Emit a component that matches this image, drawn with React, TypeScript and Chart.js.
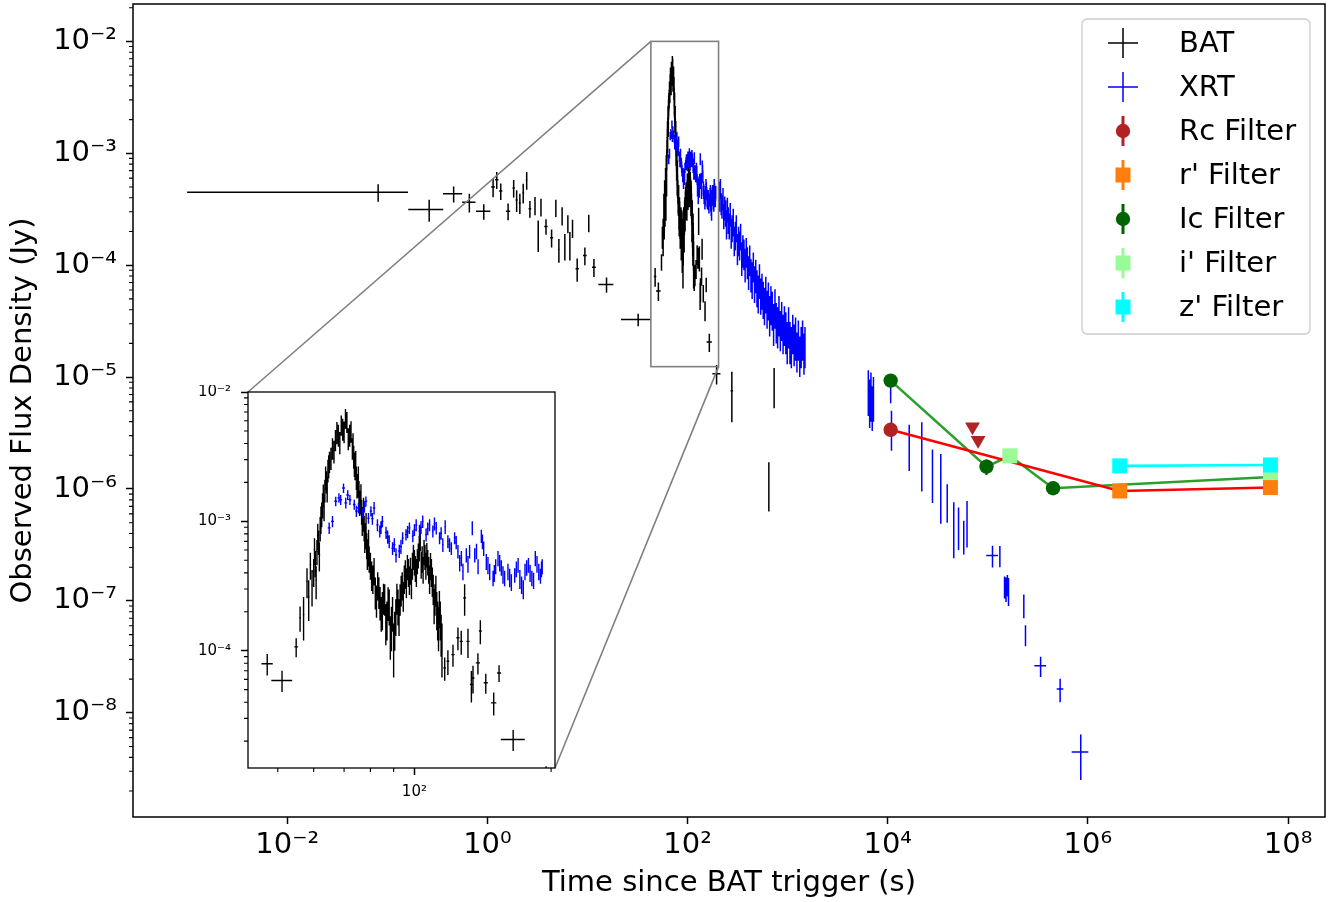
import React, { useEffect, useRef } from 'react';
import { Chart, registerables } from 'chart.js';

Chart.register(...registerables);

const FONT = "'DejaVu Sans', 'Liberation Sans', sans-serif";
Chart.defaults.font.family = FONT;

// ---------------- data ----------------
// rows: [time since trigger (s), time error (s), flux density (Jy), flux error (Jy)]
const batEarly: number[][] = [
  [0.081, 0.08, 4.48e-4, 8.0e-5],
  [0.262, 0.1, 3.15e-4, 7.0e-5],
  [0.46, 0.1, 4.34e-4, 7.0e-5],
  [0.66, 0.1, 3.66e-4, 7.0e-5],
  [0.92, 0.15, 3.03e-4, 4.8e-5],
  [1.14, 0.05, 4.99e-4, 9.5e-5],
  [1.24, 0.05, 5.8e-4, 1.0e-4],
  [1.36, 0.05, 4.6e-4, 7.8e-5],
  [1.61, 0.08, 3.04e-4, 5.2e-5],
  [1.83, 0.05, 4.9e-4, 8.7e-5],
  [1.96, 0.05, 3.83e-4, 8.4e-5],
  [2.11, 0.05, 3.6e-4, 7.4e-5],
  [2.28, 0.05, 4.45e-4, 9.0e-5],
  [2.47, 0.05, 5.77e-4, 1.04e-4],
  [2.66, 0.08, 3.2e-4, 5.5e-5],
  [2.99, 0.05, 3.43e-4, 6.4e-5],
  [3.22, 0.05, 1.91e-4, 6.0e-5],
  [3.43, 0.05, 3.33e-4, 6.0e-5],
  [3.85, 0.15, 2.22e-4, 3.5e-5],
  [4.38, 0.15, 1.76e-4, 3.2e-5],
  [4.83, 0.05, 3.27e-4, 5.8e-5],
  [5.18, 0.1, 1.38e-4, 3.3e-5],
  [5.58, 0.05, 2.78e-4, 5.2e-5],
  [5.94, 0.1, 1.5e-4, 4.0e-5],
  [6.37, 0.05, 2.36e-4, 4.3e-5],
  [6.67, 0.05, 1.54e-4, 4.4e-5],
  [7.09, 0.05, 2.15e-4, 4.0e-5],
  [7.89, 0.3, 9.3e-5, 2.2e-5],
  [9.42, 0.4, 1.22e-4, 2.2e-5],
  [10.3, 0.1, 2.4e-4, 4.3e-5],
  [11.6, 0.5, 9.6e-5, 1.75e-5],
  [15.5, 2.65, 6.71e-5, 1.05e-5],
  [32.1, 10.5, 3.27e-5, 4.2e-6],
  [47.4, 1.35, 7.93e-5, 1.5e-5],
  [51.1, 2.7, 5.89e-5, 1.1e-5],
  [54.9, 0.5, 1.07e-4, 1.8e-5],
];

const batBurst: number[][] = [
  [56, 0.25, 1.8e-4, 4.0e-5], [57, 0.25, 1.9e-4, 7.0e-5], [58, 0.25, 3.44e-4, 9.0e-5],
  [59, 0.25, 4.63e-4, 1.1e-4], [60, 0.25, 4.11e-4, 1.0e-4], [60.5, 0.25, 4.8e-4, 1.1e-4],
  [61, 0.25, 5.87e-4, 1.3e-4], [61.5, 0.25, 7.0e-4, 1.5e-4], [62, 0.25, 8.89e-4, 1.9e-4],
  [62.5, 0.25, 1.15e-3, 2.5e-4], [63, 0.25, 1.61e-3, 3.2e-4], [63.5, 0.25, 1.75e-3, 3.5e-4],
  [64, 0.25, 2.04e-3, 4.0e-4], [64.5, 0.25, 2.5e-3, 5.0e-4], [65, 0.25, 2.91e-3, 5.5e-4],
  [65.5, 0.25, 3.1e-3, 6.0e-4], [66, 0.25, 3.69e-3, 7.0e-4], [66.5, 0.25, 3.5e-3, 7.0e-4],
  [67, 0.25, 4.28e-3, 8.0e-4], [67.5, 0.25, 4.9e-3, 9.5e-4], [68, 0.25, 4.68e-3, 9.0e-4],
  [68.5, 0.25, 4.1e-3, 8.0e-4], [69, 0.25, 5.59e-3, 1.0e-3], [69.5, 0.25, 5.2e-3, 1.0e-3],
  [70, 0.25, 4.96e-3, 9.5e-4], [70.5, 0.25, 6.3e-3, 1.1e-3], [71, 0.25, 5.92e-3, 1.1e-3],
  [71.5, 0.25, 4.4e-3, 8.5e-4], [72, 0.25, 4.68e-3, 9.0e-4], [72.5, 0.25, 5.0e-3, 9.5e-4],
  [73, 0.25, 3.69e-3, 7.0e-4], [73.5, 0.25, 3.2e-3, 6.5e-4], [74, 0.25, 2.58e-3, 5.0e-4],
  [74.5, 0.25, 2.2e-3, 4.5e-4], [75, 0.25, 1.92e-3, 4.0e-4], [75.5, 0.25, 1.7e-3, 3.5e-4],
  [76, 0.25, 1.43e-3, 3.0e-4], [76.5, 0.25, 1.2e-3, 2.6e-4], [77, 0.25, 1.06e-3, 2.3e-4],
  [77.5, 0.25, 9.0e-4, 2.0e-4], [78, 0.25, 7.89e-4, 1.8e-4], [78.5, 0.25, 6.6e-4, 1.5e-4],
  [79, 0.25, 5.87e-4, 1.4e-4], [79.5, 0.25, 5.2e-4, 1.2e-4], [80, 0.25, 4.63e-4, 1.1e-4],
  [81, 0.25, 3.65e-4, 9.0e-5], [82, 0.25, 2.88e-4, 8.0e-5], [83, 0.25, 3.25e-4, 8.0e-5],
  [84, 0.25, 2.41e-4, 7.0e-5], [84.5, 0.25, 2.0e-4, 6.0e-5], [85, 0.25, 2.14e-4, 7.0e-5],
  [86, 0.25, 2.56e-4, 7.0e-5], [87, 0.25, 1.8e-4, 6.0e-5], [88, 0.25, 2.27e-4, 7.0e-5],
  [88.5, 0.25, 1.35e-4, 5.0e-5], [89, 0.25, 1.59e-4, 6.0e-5], [90, 0.25, 1.12e-4, 5.0e-5],
  [91, 0.25, 1.9e-4, 6.0e-5], [92, 0.25, 2.27e-4, 7.0e-5], [93, 0.25, 2.56e-4, 7.0e-5],
  [94, 0.25, 3.25e-4, 8.0e-5], [95, 0.25, 3.65e-4, 9.0e-5], [95.5, 0.25, 4.0e-4, 1.0e-4],
  [96, 0.25, 3.44e-4, 9.0e-5], [97, 0.25, 4.11e-4, 1.0e-4], [97.5, 0.25, 3.6e-4, 9.0e-5],
  [98, 0.25, 4.24e-4, 1.0e-4], [99, 0.25, 4.63e-4, 1.1e-4], [99.5, 0.25, 5.4e-4, 1.2e-4],
  [100, 0.25, 4.91e-4, 1.1e-4], [100.5, 0.25, 4.4e-4, 1.0e-4], [101, 0.25, 4.11e-4, 1.0e-4],
  [102, 0.25, 5.53e-4, 1.2e-4], [102.5, 0.25, 6.3e-4, 1.4e-4], [103, 0.25, 7.45e-4, 1.6e-4],
  [103.5, 0.25, 4.7e-4, 1.1e-4], [104, 0.25, 5.21e-4, 1.2e-4], [105, 0.25, 5.87e-4, 1.3e-4],
  [105.5, 0.25, 5.4e-4, 1.2e-4], [106, 0.25, 4.63e-4, 1.1e-4], [107, 0.25, 4.91e-4, 1.1e-4],
  [107.5, 0.25, 4.3e-4, 1.0e-4], [108, 0.25, 3.65e-4, 9.0e-5], [109, 0.25, 4.11e-4, 1.0e-4],
  [109.5, 0.25, 3.5e-4, 9.0e-5], [110, 0.25, 3.06e-4, 8.0e-5], [111, 0.25, 2.56e-4, 7.0e-5],
  [112, 0.25, 2.14e-4, 7.0e-5], [113, 0.25, 1.59e-4, 6.0e-5], [114, 0.25, 1.8e-4, 6.0e-5],
  [115, 0.25, 1.12e-4, 5.0e-5],
];

const batBurstExtra: number[][] = [
  [58.5, 0.25, 2.6e-4, 9e-5], [59.5, 0.25, 3.2e-4, 1.0e-4], [60.25, 0.25, 6.0e-4, 1.4e-4],
  [60.75, 0.25, 3.5e-4, 1.0e-4], [61.25, 0.25, 7.8e-4, 1.8e-4], [61.75, 0.25, 5.5e-4, 1.4e-4],
  [62.25, 0.25, 1.05e-3, 2.5e-4], [62.75, 0.25, 1.35e-3, 3.0e-4], [63.25, 0.25, 1.3e-3, 3.0e-4],
  [63.75, 0.25, 2.2e-3, 4.5e-4], [64.25, 0.25, 1.8e-3, 4.0e-4], [64.75, 0.25, 2.7e-3, 5.5e-4],
  [73.25, 0.25, 4.0e-3, 8e-4], [73.75, 0.25, 2.8e-3, 6e-4], [74.25, 0.25, 2.9e-3, 6e-4],
  [74.75, 0.25, 1.9e-3, 4e-4], [75.25, 0.25, 2.2e-3, 4.5e-4], [75.75, 0.25, 1.4e-3, 3e-4],
  [76.25, 0.25, 1.6e-3, 3.4e-4], [76.75, 0.25, 1.0e-3, 2.3e-4], [77.25, 0.25, 1.25e-3, 2.7e-4],
  [77.75, 0.25, 7.5e-4, 1.8e-4], [78.25, 0.25, 9.5e-4, 2.1e-4], [78.75, 0.25, 5.6e-4, 1.4e-4],
  [79.25, 0.25, 7.0e-4, 1.6e-4], [80.5, 0.25, 3.9e-4, 1.0e-4], [81.5, 0.25, 4.2e-4, 1.0e-4],
  [82.5, 0.25, 2.5e-4, 7e-5], [83.5, 0.25, 2.9e-4, 8e-5], [85.5, 0.25, 2.6e-4, 7e-5],
  [86.5, 0.25, 1.7e-4, 6e-5], [87.5, 0.25, 2.4e-4, 7e-5], [89.5, 0.25, 2.0e-4, 6e-5],
  [90.5, 0.25, 1.5e-4, 5e-5], [91.5, 0.25, 2.6e-4, 7e-5], [92.5, 0.25, 1.9e-4, 6e-5],
  [93.5, 0.25, 3.0e-4, 8e-5], [94.5, 0.25, 2.7e-4, 7e-5], [96.5, 0.25, 4.5e-4, 1.0e-4],
  [98.5, 0.25, 3.4e-4, 9e-5], [101.5, 0.25, 5.0e-4, 1.1e-4], [104.5, 0.25, 4.3e-4, 1.0e-4],
  [106.5, 0.25, 5.6e-4, 1.2e-4], [108.5, 0.25, 4.6e-4, 1.1e-4], [110.5, 0.25, 2.3e-4, 7e-5],
  [111.5, 0.25, 3.0e-4, 8e-5], [112.5, 0.25, 1.8e-4, 6e-5], [113.5, 0.25, 2.2e-4, 7e-5],
  [114.5, 0.25, 1.4e-4, 5e-5],
];

const batTail: number[][] = [
  [116.6, 0.8, 7.37e-5, 1.5e-5], [118.5, 0.8, 8.29e-5, 1.8e-5], [121.6, 1.0, 9.33e-5, 1.8e-5],
  [124.7, 1.0, 1.26e-4, 2.5e-5], [126.8, 1.0, 1.18e-4, 2.5e-5], [129.0, 1.0, 2.56e-4, 7.0e-5],
  [131.2, 1.0, 1.18e-4, 3.0e-5], [133.5, 1.0, 5.48e-5, 1.5e-5], [134.6, 1.0, 6.16e-5, 1.5e-5],
  [138.0, 1.5, 8.05e-5, 1.5e-5], [139.7, 1.0, 1.42e-4, 3.0e-5], [143.6, 1.5, 5.65e-5, 1.0e-5],
  [149.5, 2.0, 3.95e-5, 8.0e-6], [153.6, 1.5, 6.73e-5, 1.0e-5], [165.0, 10.0, 2.06e-5, 3.8e-6],
  [195, 18, 1.07e-5, 2.1e-6], [277, 8, 7.55e-6, 3.6e-6], [649, 5, 1.18e-6, 5.5e-7],
  [733, 5, 8.67e-6, 3.4e-6],
];

const xrtWT: number[][] = [
  [64.9, 0.5, 8.9e-4, 9e-5], [66.0, 0.5, 1.0e-3, 1e-4], [67.1, 0.5, 1.43e-3, 1.2e-4],
  [68.2, 0.5, 1.52e-3, 1.3e-4], [68.8, 0.5, 1.47e-3, 1.3e-4], [69.8, 0.5, 1.81e-3, 1.5e-4],
  [70.6, 0.5, 1.39e-3, 1.3e-4], [72.1, 0.5, 1.47e-3, 1.3e-4], [73.7, 0.5, 1.35e-3, 1.2e-4],
  [75.3, 0.5, 1.27e-3, 1.2e-4], [76.9, 0.5, 1.16e-3, 1.1e-4], [78.2, 0.5, 1.43e-3, 1.3e-4],
  [79.2, 0.5, 1.06e-3, 1.0e-4], [80.2, 0.5, 1.2e-3, 1.1e-4], [81.5, 0.5, 1.27e-3, 1.4e-4],
  [82.9, 0.5, 9.4e-4, 1.0e-4], [83.9, 0.5, 8.4e-4, 9e-5], [85.0, 0.5, 1.0e-3, 1.0e-4],
  [86.6, 0.5, 8.2e-4, 9e-5], [88.0, 0.5, 7.0e-4, 8e-5], [89.5, 0.5, 6.2e-4, 7e-5],
  [91.1, 0.5, 5.5e-4, 7e-5], [92.6, 0.5, 5.9e-4, 7e-5], [94.2, 0.5, 7.45e-4, 8e-5],
  [95.8, 0.5, 7.9e-4, 8e-5], [97.5, 0.5, 8.9e-4, 9e-5], [99.2, 0.5, 7.7e-4, 8e-5],
  [100.9, 0.5, 9.4e-4, 1e-4], [102.6, 0.5, 8.4e-4, 1e-4], [104.3, 0.5, 1.0e-3, 1.1e-4],
  [106.1, 0.5, 7.9e-4, 9e-5], [108.0, 0.5, 9.4e-4, 1e-4], [109.8, 0.5, 8.4e-4, 9e-5],
  [111.7, 0.5, 8.9e-4, 1e-4], [113.6, 0.5, 7.45e-4, 8e-5], [115.5, 0.5, 6.6e-4, 8e-5],
  [116.9, 0.5, 9.1e-4, 1.1e-4], [118.5, 0.5, 7.0e-4, 8e-5], [120.6, 0.5, 6.2e-4, 7e-5],
  [122.6, 0.5, 7.45e-4, 8e-5], [124.7, 0.5, 5.87e-4, 7e-5], [125.8, 0.5, 4.8e-4, 7e-5],
  [127.9, 0.5, 4.1e-4, 6e-5], [130.1, 0.5, 5.5e-4, 7e-5], [132.3, 0.5, 5.87e-4, 7e-5],
  [134.1, 0.5, 8.9e-4, 1.1e-4], [135.8, 0.5, 5.5e-4, 7e-5], [138.1, 0.5, 4.5e-4, 6e-5],
  [140.4, 0.5, 7.7e-4, 9e-5], [142.1, 0.5, 6.2e-4, 8e-5], [144.0, 0.5, 4.9e-4, 7e-5],
  [146.5, 0.5, 4.1e-4, 6e-5], [149.0, 0.5, 3.65e-4, 5e-5], [151.0, 0.5, 4.5e-4, 6e-5],
  [152.8, 0.5, 5.2e-4, 7e-5], [155.4, 0.5, 4.4e-4, 6e-5], [158.0, 0.5, 3.65e-4, 5e-5],
  [160.7, 0.5, 4.1e-4, 6e-5], [163.5, 0.5, 3.4e-4, 5e-5], [166.3, 0.5, 3.85e-4, 5e-5],
  [169.2, 0.5, 4.6e-4, 6e-5], [172.2, 0.5, 3.25e-4, 5e-5], [175.2, 0.5, 4.1e-4, 6e-5],
  [178.3, 0.5, 4.6e-4, 6e-5], [181.4, 0.5, 3.65e-4, 5e-5], [184.6, 0.5, 5.2e-4, 7e-5],
  [187.9, 0.5, 4.1e-4, 6e-5], [191.2, 0.5, 4.5e-4, 6e-5],
];

const xrtWTExtra: number[][] = [
  [71.3, 0.5, 1.6e-3, 1.4e-4], [74.5, 0.5, 1.2e-3, 1.2e-4], [77.6, 0.5, 1.3e-3, 1.3e-4],
  [80.8, 0.5, 1.05e-3, 1.1e-4], [84.4, 0.5, 9.0e-4, 1e-4], [87.3, 0.5, 7.6e-4, 9e-5],
  [90.3, 0.5, 6.6e-4, 8e-5], [93.4, 0.5, 6.4e-4, 8e-5], [96.6, 0.5, 8.3e-4, 9e-5],
  [100.0, 0.5, 8.6e-4, 9e-5], [103.4, 0.5, 9.0e-4, 1e-4], [107.0, 0.5, 8.8e-4, 1e-4],
  [110.7, 0.5, 9.6e-4, 1.1e-4], [114.5, 0.5, 8.1e-4, 9e-5], [119.5, 0.5, 6.6e-4, 8e-5],
  [123.6, 0.5, 6.9e-4, 8e-5], [126.9, 0.5, 5.2e-4, 7e-5], [131.2, 0.5, 4.7e-4, 7e-5],
  [137.0, 0.5, 5.9e-4, 8e-5], [141.2, 0.5, 7.0e-4, 9e-5], [145.2, 0.5, 4.6e-4, 7e-5],
  [150.0, 0.5, 4.0e-4, 6e-5], [154.1, 0.5, 4.8e-4, 7e-5], [156.7, 0.5, 3.9e-4, 6e-5],
  [162.1, 0.5, 3.7e-4, 6e-5], [167.7, 0.5, 4.3e-4, 6e-5], [170.7, 0.5, 3.6e-4, 6e-5],
  [173.7, 0.5, 3.0e-4, 5e-5], [176.7, 0.5, 4.4e-4, 6e-5], [179.8, 0.5, 4.0e-4, 6e-5],
  [183.0, 0.5, 3.5e-4, 5e-5], [186.2, 0.5, 4.7e-4, 7e-5], [189.5, 0.5, 3.8e-4, 5e-5],
  [190.5, 0.5, 4.3e-4, 6e-5],
];

const xrtWTLate: number[][] = [
  [206, 1, 4.6e-4, 1.0e-4], [209, 1, 3.8e-4, 8e-5], [213, 1, 4.9e-4, 1.0e-4], [217, 1, 3.6e-4, 8e-5],
  [221, 1, 3.4e-4, 8e-5], [226, 1, 4.0e-4, 9e-5], [230, 1, 2.8e-4, 7e-5], [235, 1, 3.3e-4, 8e-5],
  [240, 1, 3.0e-4, 8e-5], [245, 1, 2.4e-4, 7e-5], [250, 1, 3.2e-4, 8e-5], [255, 1, 2.6e-4, 7e-5],
  [261, 1, 2.3e-4, 6e-5], [267, 1, 2.9e-4, 7e-5], [273, 1, 2.0e-4, 6e-5], [279, 1, 2.2e-4, 6e-5],
  [286, 1, 2.5e-4, 7e-5], [293, 1, 1.7e-4, 5e-5], [300, 1, 1.9e-4, 5.5e-5], [307, 1, 2.2e-4, 6e-5],
  [315, 1, 1.45e-4, 4.5e-5], [323, 1, 1.7e-4, 5e-5], [331, 1, 1.55e-4, 4.5e-5], [339, 1, 1.85e-4, 5e-5],
  [348, 1, 1.2e-4, 4e-5], [357, 1, 1.4e-4, 4.5e-5], [366, 1, 1.3e-4, 4e-5], [376, 1, 1.05e-4, 3.5e-5],
  [386, 1, 1.35e-4, 4e-5], [396, 1, 1.1e-4, 3.5e-5], [407, 1, 9.0e-5, 3e-5], [418, 1, 1.15e-4, 3.5e-5],
  [430, 1, 8.5e-5, 2.8e-5], [442, 1, 7.8e-5, 2.8e-5], [454, 1, 1.0e-4, 3e-5], [467, 1, 7.2e-5, 2.6e-5],
  [480, 1, 8.4e-5, 2.8e-5], [494, 1, 6.6e-5, 2.4e-5], [508, 1, 5.9e-5, 2.2e-5], [523, 1, 7.6e-5, 2.6e-5],
  [538, 1, 5.6e-5, 2e-5], [554, 1, 6.2e-5, 2.2e-5], [570, 1, 5.2e-5, 1.9e-5], [587, 1, 4.6e-5, 1.7e-5],
  [605, 1, 5.8e-5, 2.1e-5], [623, 1, 4.3e-5, 1.6e-5], [642, 1, 5.1e-5, 1.9e-5], [661, 1, 3.8e-5, 1.5e-5],
  [681, 1, 4.7e-5, 1.8e-5], [702, 1, 4.2e-5, 1.6e-5], [724, 1, 3.2e-5, 1.3e-5], [747, 1, 4.4e-5, 1.7e-5],
  [770, 1, 3.3e-5, 1.3e-5], [794, 1, 3.0e-5, 1.2e-5], [819, 1, 3.8e-5, 1.5e-5], [845, 1, 2.8e-5, 1.1e-5],
  [872, 1, 3.4e-5, 1.3e-5], [900, 1, 2.6e-5, 1.0e-5], [929, 1, 3.1e-5, 1.2e-5], [959, 1, 2.7e-5, 1.1e-5],
  [990, 1, 2.2e-5, 9e-6], [1022, 1, 3.0e-5, 1.2e-5], [1055, 1, 2.2e-5, 9e-6], [1089, 1, 2.0e-5, 8e-6],
  [1125, 1, 2.6e-5, 1.0e-5], [1162, 1, 2.1e-5, 8.5e-6], [1200, 1, 2.4e-5, 1.0e-5], [1239, 1, 1.8e-5, 7e-6],
  [1280, 1, 2.3e-5, 9e-6], [1322, 1, 1.65e-5, 6.5e-6], [1365, 1, 2.0e-5, 8e-6], [1410, 1, 2.3e-5, 9e-6],
  [1456, 1, 1.75e-5, 7e-6], [1490, 1, 2.0e-5, 8e-6],
];

const xrtPC: number[][] = [
  [6400, 100, 8.0e-6, 3.5e-6], [6600, 100, 6.5e-6, 3.0e-6], [6800, 100, 7.5e-6, 3.5e-6],
  [7000, 100, 5.8e-6, 2.5e-6], [7200, 100, 7.0e-6, 3.0e-6], [10700, 200, 7.25e-6, 1.4e-6],
  [10900, 200, 3.6e-6, 1.4e-6], [16400, 300, 2.6e-6, 1.15e-6], [21900, 300, 2.45e-6, 1.5e-6],
  [28000, 300, 1.5e-6, 7.5e-7], [33900, 300, 1.27e-6, 7.8e-7], [39300, 300, 8.0e-7, 3.0e-7],
  [45700, 300, 5.0e-7, 2.6e-7], [51000, 300, 4.85e-7, 2.0e-7], [57500, 300, 3.9e-7, 1.3e-7],
  [62000, 300, 5.4e-7, 2.4e-7], [111400, 15000, 2.55e-7, 5.6e-8], [132000, 1000, 2.55e-7, 5.5e-8],
  [147000, 1500, 1.35e-7, 3.0e-8], [152000, 1000, 1.3e-7, 3.2e-8], [157000, 1000, 1.4e-7, 3.0e-8],
  [161000, 1000, 1.25e-7, 3.5e-8], [229000, 1000, 9.2e-8, 2.2e-8], [238000, 1000, 5.0e-8, 1.06e-8],
  [337000, 45000, 2.63e-8, 5.4e-9], [528000, 40000, 1.63e-8, 3.9e-9], [849000, 160000, 4.46e-9, 1.95e-9],
];

// optical rows: [time (s), flux density (Jy), flux error (Jy)]
const rcFilter: number[][] = [[10700, 3.38e-6, 2.0e-7]];
const rcUpperLimits: number[][] = [[70300, 3.6e-6, 0], [80000, 2.73e-6, 0]];
const rPrimeFilter: number[][] = [[2.08e6, 9.6e-7, 8e-8], [6.67e7, 1.03e-6, 8e-8]];
const icFilter: number[][] = [[10700, 9.3e-6, 4e-7], [97000, 1.585e-6, 2.5e-7], [449000, 1.016e-6, 1.2e-7]];
const iPrimeFilter: number[][] = [[166000, 1.98e-6, 1e-7], [6.67e7, 1.28e-6, 1e-7]];
const zPrimeFilter: number[][] = [[2.08e6, 1.61e-6, 1e-7], [6.67e7, 1.64e-6, 1.5e-7]];

// axis ranges and ticks
const MAIN_X_RANGE = [2.877e-4, 2.34e8];
const MAIN_Y_RANGE = [1.172e-9, 2.158e-2];
const MAIN_X_TICKS = [1e-2, 1, 1e2, 1e4, 1e6, 1e8];
const MAIN_Y_TICKS = [1e-8, 1e-7, 1e-6, 1e-5, 1e-4, 1e-3, 1e-2];
const INSET_X_RANGE = [43, 204];
const INSET_Y_RANGE = [1.24e-5, 1e-2];
const INSET_X_TICKS = [1e2];
const INSET_Y_TICKS = [1e-4, 1e-3, 1e-2];

// ---------------- styles / layout ----------------
const W = 1335;
const H = 902;
const INSET_CANVAS = { left: 190, top: 385, width: 375, height: 420 };
const INSET_AREA = { left: 248, top: 392, right: 555, bottom: 768 };
const C_RC = '#b22222';
const C_R = '#ff7f0e';
const C_IC = '#006400';
const C_I = '#98fb98';
const C_Z = '#00ffff';

const SUP: Record<string, string> = {
  '-': '\u207b', '0': '\u2070', '1': '\u00b9', '2': '\u00b2', '3': '\u00b3',
  '4': '\u2074', '5': '\u2075', '6': '\u2076', '7': '\u2077', '8': '\u2078', '9': '\u2079',
};
const pow10Label = (v: number) => {
  const e = Math.round(Math.log10(v));
  return '10' + String(e).split('').map((c) => SUP[c]).join('');
};

const toErr = (rows: number[][]) => rows.map(([t, te, f, fe]) => ({ x: t, y: f, xerr: te, yerr: fe }));
const toOpt = (rows: number[][]) => rows.map(([t, f, fe]) => ({ x: t, y: f, xerr: 0, yerr: fe }));
const lineOf = (...sets: number[][][]) =>
  ([] as number[][]).concat(...sets).sort((a, b) => a[0] - b[0]).map(([t, f]) => ({ x: t, y: f }));

const errorBarPlugin = {
  id: 'errorBars',
  beforeDatasetsDraw(chart: any) {
    const { ctx, chartArea: a, scales } = chart;
    const xs = scales.x;
    const ys = scales.y;
    ctx.save();
    ctx.beginPath();
    ctx.rect(a.left, a.top, a.right - a.left, a.bottom - a.top);
    ctx.clip();
    ctx.lineCap = 'butt';
    chart.data.datasets.forEach((ds: any) => {
      if (!ds.errorBars) return;
      ctx.strokeStyle = ds.errorColor;
      ctx.lineWidth = ds.errorWidth;
      ctx.beginPath();
      ds.data.forEach((p: any) => {
        const px = xs.getPixelForValue(p.x);
        const py = ys.getPixelForValue(p.y);
        if (p.xerr) {
          const lo = Math.max(p.x - p.xerr, p.x * 1e-6);
          ctx.moveTo(xs.getPixelForValue(lo), py);
          ctx.lineTo(xs.getPixelForValue(p.x + p.xerr), py);
        }
        if (p.yerr) {
          const lo = Math.max(p.y - p.yerr, p.y * 1e-6);
          ctx.moveTo(px, ys.getPixelForValue(lo));
          ctx.lineTo(px, ys.getPixelForValue(p.y + p.yerr));
        }
      });
      ctx.stroke();
    });
    ctx.restore();
  },
};

function makeFramePlugin(o: { minorX: boolean; minorLen: number; frameWidth: number; whiteBg: boolean }) {
  return {
    id: 'frame',
    beforeDraw(chart: any) {
      if (!o.whiteBg) return;
      const { ctx, chartArea: a } = chart;
      ctx.save();
      ctx.fillStyle = '#ffffff';
      ctx.fillRect(a.left, a.top, a.right - a.left, a.bottom - a.top);
      ctx.restore();
    },
    afterDraw(chart: any) {
      const { ctx, chartArea: a, scales } = chart;
      ctx.save();
      ctx.strokeStyle = '#000';
      ctx.lineWidth = 1.1;
      ctx.beginPath();
      const ys = scales.y;
      for (let d = Math.floor(Math.log10(ys.min)); d <= Math.ceil(Math.log10(ys.max)); d++) {
        for (let k = 2; k <= 9; k++) {
          const v = k * Math.pow(10, d);
          if (v < ys.min || v > ys.max) continue;
          const py = ys.getPixelForValue(v);
          ctx.moveTo(a.left - o.minorLen, py);
          ctx.lineTo(a.left, py);
        }
      }
      if (o.minorX) {
        const xs = scales.x;
        for (let d = Math.floor(Math.log10(xs.min)); d <= Math.ceil(Math.log10(xs.max)); d++) {
          for (let k = 2; k <= 9; k++) {
            const v = k * Math.pow(10, d);
            if (v < xs.min || v > xs.max) continue;
            const px = xs.getPixelForValue(v);
            ctx.moveTo(px, a.bottom);
            ctx.lineTo(px, a.bottom + o.minorLen);
          }
        }
      }
      ctx.stroke();
      ctx.lineWidth = o.frameWidth;
      ctx.strokeRect(a.left, a.top, a.right - a.left, a.bottom - a.top);
      ctx.restore();
    },
  };
}

const connectorPlugin = {
  id: 'insetConnector',
  afterDatasetsDraw(chart: any) {
    const { ctx, scales } = chart;
    const x0 = scales.x.getPixelForValue(INSET_X_RANGE[0]);
    const x1 = scales.x.getPixelForValue(INSET_X_RANGE[1]);
    const y0 = scales.y.getPixelForValue(INSET_Y_RANGE[1]);
    const y1 = scales.y.getPixelForValue(INSET_Y_RANGE[0]);
    ctx.save();
    ctx.strokeStyle = '#808080';
    ctx.lineWidth = 1.6;
    ctx.strokeRect(x0, y0, x1 - x0, y1 - y0);
    ctx.beginPath();
    ctx.moveTo(x0, y0);
    ctx.lineTo(INSET_AREA.left, INSET_AREA.top);
    ctx.moveTo(x1, y1);
    ctx.lineTo(INSET_AREA.right, INSET_AREA.bottom);
    ctx.stroke();
    ctx.restore();
  },
};

const LEGEND_ITEMS = [
  { label: 'BAT', kind: 'cross', color: '#000000' },
  { label: 'XRT', kind: 'cross', color: '#0000ff' },
  { label: 'Rc Filter', kind: 'circle', color: C_RC },
  { label: "r' Filter", kind: 'square', color: C_R },
  { label: 'Ic Filter', kind: 'circle', color: C_IC },
  { label: "i' Filter", kind: 'square', color: C_I },
  { label: "z' Filter", kind: 'square', color: C_Z },
];

const legendPlugin = {
  id: 'customLegend',
  afterDraw(chart: any) {
    const ctx = chart.ctx;
    const bx = 1082, by = 19, bw = 228, bh = 315, r = 5;
    ctx.save();
    ctx.beginPath();
    ctx.moveTo(bx + r, by);
    ctx.arcTo(bx + bw, by, bx + bw, by + bh, r);
    ctx.arcTo(bx + bw, by + bh, bx, by + bh, r);
    ctx.arcTo(bx, by + bh, bx, by, r);
    ctx.arcTo(bx, by, bx + bw, by, r);
    ctx.closePath();
    ctx.fillStyle = 'rgba(255,255,255,0.8)';
    ctx.fill();
    ctx.strokeStyle = '#cccccc';
    ctx.lineWidth = 1.3;
    ctx.stroke();
    const cx = 1123;
    LEGEND_ITEMS.forEach((it, i) => {
      const cy = 43 + i * 44;
      ctx.strokeStyle = it.color;
      ctx.fillStyle = it.color;
      if (it.kind === 'cross') {
        ctx.lineWidth = 1.5;
        ctx.beginPath();
        ctx.moveTo(cx - 15, cy);
        ctx.lineTo(cx + 15, cy);
        ctx.moveTo(cx, cy - 15);
        ctx.lineTo(cx, cy + 15);
        ctx.stroke();
      } else {
        ctx.lineWidth = 3;
        ctx.beginPath();
        ctx.moveTo(cx, cy - 15);
        ctx.lineTo(cx, cy + 15);
        ctx.stroke();
        ctx.beginPath();
        if (it.kind === 'circle') ctx.arc(cx, cy, 7.2, 0, Math.PI * 2);
        else ctx.rect(cx - 7.5, cy - 7.5, 15, 15);
        ctx.fill();
      }
      ctx.fillStyle = '#000';
      ctx.font = `29px ${FONT}`;
      ctx.textBaseline = 'middle';
      ctx.textAlign = 'left';
      ctx.fillText(it.label, 1179, cy + 1);
    });
    ctx.restore();
  },
};

function logAxis(o: any) {
  return {
    type: 'logarithmic',
    position: o.position,
    min: o.range[0],
    max: o.range[1],
    bounds: 'data',
    afterBuildTicks: (s: any) => {
      s.ticks = o.ticks.map((v: number) => ({ value: v }));
    },
    afterFit: (s: any) => {
      if (o.position === 'bottom') s.height = o.size;
      else s.width = o.size;
      s.paddingTop = 0;
      s.paddingBottom = 0;
      s.paddingLeft = 0;
      s.paddingRight = 0;
    },
    ticks: {
      autoSkip: false,
      maxRotation: 0,
      minRotation: 0,
      padding: o.tickPad,
      color: '#000',
      font: { family: FONT, size: o.fontSize },
      callback: (v: number) => pow10Label(v),
    },
    grid: {
      display: true,
      drawOnChartArea: false,
      drawTicks: true,
      tickLength: 7,
      tickWidth: 1.5,
      tickColor: '#000',
    },
    border: { display: false },
    title: o.title
      ? { display: true, text: o.title, color: '#000', font: { family: FONT, size: 29 }, padding: o.titlePad }
      : { display: false },
  };
}

function burstDatasets(width: number) {
  return [
    {
      label: 'BAT',
      data: toErr([...batEarly, ...batBurst, ...batBurstExtra, ...batTail]),
      pointRadius: 0,
      showLine: false,
      errorBars: true,
      errorColor: '#000000',
      errorWidth: width,
      order: 20,
    },
    {
      label: 'XRT',
      data: toErr([...xrtWT, ...xrtWTExtra, ...xrtWTLate, ...xrtPC]),
      pointRadius: 0,
      showLine: false,
      errorBars: true,
      errorColor: '#0000ff',
      errorWidth: width,
      order: 19,
    },
  ];
}

function opticalDatasets() {
  const marker = (label: string, rows: number[][], style: string, color: string, radius: number, extra: any = {}) => ({
    label,
    data: toOpt(rows),
    pointStyle: style,
    pointRadius: radius,
    backgroundColor: color,
    borderColor: color,
    borderWidth: 0,
    showLine: false,
    errorBars: true,
    errorColor: color,
    errorWidth: 2.2,
    order: 1,
    ...extra,
  });
  const line = (rows: any[], color: string) => ({
    label: '',
    data: rows,
    showLine: true,
    borderColor: color,
    borderWidth: 2.6,
    pointRadius: 0,
    order: 10,
  });
  return [
    marker('Rc Filter', rcFilter, 'circle', C_RC, 7.2),
    marker('Rc upper limit', rcUpperLimits, 'triangle', C_RC, 8.6, { rotation: 180, errorBars: false }),
    marker('Ic Filter', icFilter, 'circle', C_IC, 7.2),
    marker("r' Filter", rPrimeFilter, 'rect', C_R, 10.6),
    marker("z' Filter", zPrimeFilter, 'rect', C_Z, 10.6),
    marker("i' Filter", iPrimeFilter, 'rect', C_I, 10.6),
    line(lineOf(rcFilter, rPrimeFilter), '#ff0000'),
    line(lineOf(icFilter, iPrimeFilter), '#2ca02c'),
    line(lineOf(zPrimeFilter), C_Z),
  ];
}

export default function App() {
  const mainRef = useRef<HTMLCanvasElement | null>(null);
  const insetRef = useRef<HTMLCanvasElement | null>(null);

  useEffect(() => {
    const main = new Chart(mainRef.current as HTMLCanvasElement, {
      type: 'scatter',
      data: { datasets: [...burstDatasets(1.5), ...opticalDatasets()] as any },
      options: {
        responsive: false,
        animation: false,
        events: [],
        layout: { autoPadding: false, padding: { top: 4, right: 10, bottom: 0, left: 0 } },
        plugins: { legend: { display: false }, tooltip: { enabled: false } },
        scales: {
          x: logAxis({
            position: 'bottom', range: MAIN_X_RANGE, ticks: MAIN_X_TICKS, size: 85, tickPad: 3.6,
            fontSize: 29, title: 'Time since BAT trigger (s)', titlePad: { top: 0, bottom: 1.6 },
          }),
          y: logAxis({
            position: 'left', range: MAIN_Y_RANGE, ticks: MAIN_Y_TICKS, size: 133, tickPad: 9,
            fontSize: 29, title: 'Observed Flux Density (Jy)', titlePad: { top: 5.6, bottom: 0 },
          }),
        } as any,
      } as any,
      plugins: [
        errorBarPlugin,
        connectorPlugin,
        makeFramePlugin({ minorX: false, minorLen: 4, frameWidth: 1.5, whiteBg: false }),
        legendPlugin,
      ] as any,
    });

    const inset = new Chart(insetRef.current as HTMLCanvasElement, {
      type: 'scatter',
      data: { datasets: burstDatasets(1.4) as any },
      options: {
        responsive: false,
        animation: false,
        events: [],
        layout: {
          autoPadding: false,
          padding: {
            top: INSET_AREA.top - INSET_CANVAS.top,
            right: INSET_CANVAS.left + INSET_CANVAS.width - INSET_AREA.right,
            bottom: 0,
            left: 0,
          },
        },
        plugins: { legend: { display: false }, tooltip: { enabled: false } },
        scales: {
          x: logAxis({
            position: 'bottom', range: INSET_X_RANGE, ticks: INSET_X_TICKS,
            size: INSET_CANVAS.top + INSET_CANVAS.height - INSET_AREA.bottom, tickPad: 8, fontSize: 15,
          }),
          y: logAxis({
            position: 'left', range: INSET_Y_RANGE, ticks: INSET_Y_TICKS,
            size: INSET_AREA.left - INSET_CANVAS.left, tickPad: 10, fontSize: 15,
          }),
        } as any,
      } as any,
      plugins: [errorBarPlugin, makeFramePlugin({ minorX: true, minorLen: 4, frameWidth: 1.3, whiteBg: true })] as any,
    });

    return () => {
      main.destroy();
      inset.destroy();
    };
  }, []);

  return (
    <div style={{ position: 'absolute', left: 0, top: 0, width: W, height: H, background: '#ffffff' }}>
      <canvas ref={mainRef} width={W} height={H} style={{ position: 'absolute', left: 0, top: 0 }} />
      <canvas
        ref={insetRef}
        width={INSET_CANVAS.width}
        height={INSET_CANVAS.height}
        style={{ position: 'absolute', left: INSET_CANVAS.left, top: INSET_CANVAS.top }}
      />
    </div>
  );
}
